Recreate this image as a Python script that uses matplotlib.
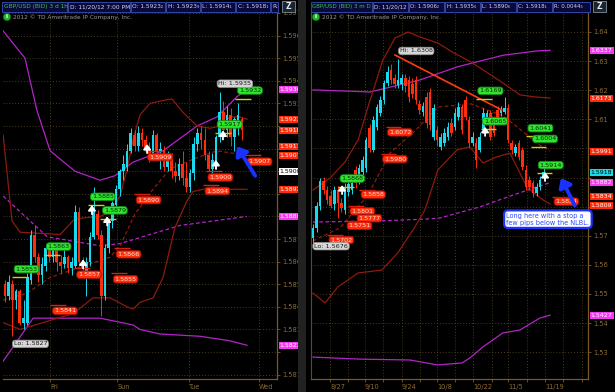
import matplotlib
matplotlib.use("Agg")
import matplotlib.pyplot as plt
from matplotlib.patches import Rectangle, Ellipse

# ---------------- LEFT PANEL DATA : GBP/USD (BID) 3 d 1h ----------------
left_open = [1.5850, 1.5845, 1.5850, 1.5843, 1.5847, 1.5833, 1.5833, 1.5852, 1.5872, 1.5862,
             1.5854, 1.5858, 1.5865, 1.5862, 1.5865, 1.5860, 1.5859, 1.5862, 1.5857, 1.5858,
             1.5882, 1.5860, 1.5856, 1.5860, 1.5871, 1.5881, 1.5872, 1.5845, 1.5866, 1.5878,
             1.5885, 1.5892, 1.5900, 1.5902, 1.5909, 1.5916, 1.5911, 1.5917, 1.5914, 1.5910,
             1.5907, 1.5916, 1.5909, 1.5909, 1.5902, 1.5907, 1.5900, 1.5898, 1.5903, 1.5897,
             1.5893, 1.5899, 1.5912, 1.5917, 1.5914, 1.5907, 1.5901, 1.5904, 1.5915, 1.5926,
             1.5918, 1.5925, 1.5915, 1.5922, 1.5923]
left_high = [1.5852, 1.5854, 1.5852, 1.5848, 1.5848, 1.5843, 1.5855, 1.5874, 1.5876, 1.5864,
             1.5862, 1.5868, 1.5867, 1.5867, 1.5866, 1.5863, 1.5865, 1.5863, 1.5862, 1.5885,
             1.5884, 1.5862, 1.5862, 1.5873, 1.5893, 1.5883, 1.5874, 1.5868, 1.5879, 1.5887,
             1.5894, 1.5901, 1.5907, 1.5912, 1.5919, 1.5918, 1.5920, 1.5919, 1.5916, 1.5913,
             1.5918, 1.5917, 1.5913, 1.5911, 1.5909, 1.5908, 1.5904, 1.5906, 1.5909, 1.5904,
             1.5901, 1.5915, 1.5919, 1.5920, 1.5919, 1.5909, 1.5908, 1.5916, 1.5935, 1.5931,
             1.5929, 1.5928, 1.5924, 1.5930, 1.5924]
left_low = [1.5842, 1.5843, 1.5827, 1.5839, 1.5832, 1.5830, 1.5832, 1.5850, 1.5860, 1.5851,
            1.5850, 1.5856, 1.5860, 1.5860, 1.5856, 1.5855, 1.5857, 1.5855, 1.5854, 1.5857,
            1.5858, 1.5855, 1.5845, 1.5858, 1.5870, 1.5870, 1.5836, 1.5843, 1.5864, 1.5875,
            1.5882, 1.5889, 1.5896, 1.5900, 1.5908, 1.5909, 1.5909, 1.5911, 1.5909, 1.5904,
            1.5905, 1.5906, 1.5901, 1.5900, 1.5900, 1.5897, 1.5895, 1.5896, 1.5894, 1.5891,
            1.5891, 1.5896, 1.5909, 1.5910, 1.5905, 1.5900, 1.5899, 1.5901, 1.5913, 1.5916,
            1.5915, 1.5911, 1.5909, 1.5916, 1.5914]
left_close = [1.5845, 1.5851, 1.5843, 1.5847, 1.5833, 1.5835, 1.5853, 1.5872, 1.5862, 1.5854,
              1.5859, 1.5866, 1.5862, 1.5865, 1.5860, 1.5858, 1.5862, 1.5857, 1.5860, 1.5882,
              1.5860, 1.5857, 1.5860, 1.5871, 1.5882, 1.5872, 1.5845, 1.5866, 1.5878, 1.5886,
              1.5892, 1.5900, 1.5903, 1.5909, 1.5917, 1.5911, 1.5917, 1.5914, 1.5910, 1.5907,
              1.5916, 1.5909, 1.5910, 1.5902, 1.5907, 1.5900, 1.5898, 1.5903, 1.5897, 1.5893,
              1.5899, 1.5912, 1.5917, 1.5914, 1.5907, 1.5901, 1.5905, 1.5915, 1.5926, 1.5918,
              1.5925, 1.5915, 1.5923, 1.5925, 1.5918]

left_day_ticks = [12.2, 30.3, 49.7, 68.6]
left_day_labels = ["Fri", "Sun", "Tue", "Wed"]
left_price_ticks = [1.581, 1.582, 1.583, 1.584, 1.585, 1.586, 1.587, 1.588, 1.589,
                    1.590, 1.591, 1.592, 1.593, 1.594, 1.595, 1.596, 1.597]
left_price_labels = ["1.581", "1.582", "1.583", "1.584", "1.585", "1.586", "1.587", "1.588",
                     "1.589", "1.590", "1.591", "1.592", "1.593", "1.594", "1.595", "1.596",
                     "1.597"]

# indicator lines (bar index, price)
left_bbu_x = [-0.5, 1.9, 4.1, 14.9, 18.9, 25.7, 28.4, 31.1, 33.0, 34.6, 36.5, 39.2, 41.9,
              45.1, 48.1, 51.9, 55.4, 58.1, 60.8, 63.5, 65.4]
left_bbu = [1.5916, 1.5878, 1.5873, 1.5872, 1.5879, 1.5880, 1.5882, 1.5889, 1.5901, 1.5914,
            1.5925, 1.5930, 1.5931, 1.5932, 1.5926, 1.5920, 1.5919, 1.5920, 1.5924, 1.5924, 1.5923]
left_bbl_x = [-0.5, 4.1, 12.2, 18.4, 23.8, 28.4, 33.0, 34.6, 36.5, 40.0, 42.7, 44.6, 45.9,
              49.2, 50.8, 56.2, 60.8, 65.4]
left_bbl = [1.5833, 1.5830, 1.5834, 1.5837, 1.5844, 1.5844, 1.5840, 1.5839, 1.5842, 1.5844,
            1.5853, 1.5866, 1.5875, 1.5887, 1.5891, 1.5893, 1.5892, 1.5892]
left_bbm_x = [-0.5, 5.9, 12.2, 21.1, 28.4, 31.1, 35.1, 40.0, 44.6, 51.9, 57.3, 65.4]
left_bbm = [1.5843, 1.5846, 1.5853, 1.5858, 1.5862, 1.5867, 1.5881, 1.5892, 1.5901, 1.5906, 1.5909, 1.5907]
left_envu_x = [-0.5, 5.4, 8.6, 12.2, 18.9, 25.7, 29.7, 34.6, 42.7, 51.9, 57.3, 62.7, 65.4]
left_envu = [1.5962, 1.5950, 1.5927, 1.5909, 1.5900, 1.5896, 1.5898, 1.5904, 1.5909, 1.5920,
             1.5924, 1.5933, 1.5936]
left_envl_x = [-0.5, 5.9, 7.6, 12.2, 25.7, 34.6, 36.5, 41.9, 52.7, 60.8, 65.4]
left_envl = [1.5816, 1.5831, 1.5835, 1.5835, 1.5835, 1.5832, 1.5830, 1.5828, 1.5827, 1.5825, 1.5823]
left_envm_x = [-0.5, 11.4, 25.7, 31.1, 47.3, 65.4]
left_envm = [1.5889, 1.5871, 1.5867, 1.5868, 1.5876, 1.5880]

left_green_vals = [1.5853, 1.5863, 1.5885, 1.5879, 1.5917, 1.5932]
left_green_x = [5.8, 14.5, 26.4, 29.7, 60.7, 66.2]
left_red_vals = [1.5841, 1.5857, 1.5855, 1.5866, 1.5890, 1.5909, 1.5900, 1.5894, 1.5907]
left_red_x = [16.2, 22.7, 32.6, 33.4, 38.8, 41.9, 58.2, 57.4, 68.8]
left_arrow_x = [23.5, 27.6, 21.1, 38.4, 57.0, 58.9]
left_arrow_y = [1.5885, 1.5880, 1.5861, 1.5912, 1.5905, 1.5918]
left_tags = [(1.5936, "1.5936", "#f23cf2", "white"), (1.5923, "1.5923", "#ff2a0a", "white"),
             (1.5918, "1.5918", "#ff2a0a", "white"), (1.5911, "1.5911", "#ff2a0a", "white"),
             (1.5907, "1.5907", "#ff2a0a", "white"), (1.5900, "1.5900", "#ffffff", "black"),
             (1.5892, "1.5892", "#ff2a0a", "white"), (1.5880, "1.5880", "#f23cf2", "white"),
             (1.5823, "1.5823", "#f23cf2", "white")]

# ---------------- RIGHT PANEL DATA : GBP/USD (BID) 3 m D ----------------
right_open = [1.5692, 1.5727, 1.5802, 1.5888, 1.5857, 1.5836, 1.5809, 1.5857, 1.5812, 1.5788,
              1.5850, 1.5857, 1.5926, 1.5891, 1.5919, 1.5933, 1.6070, 1.5995, 1.6074, 1.6122,
              1.6166, 1.6225, 1.6269, 1.6242, 1.6218, 1.6221, 1.6242, 1.6235, 1.6221, 1.6235,
              1.6153, 1.6125, 1.6177, 1.6194, 1.6039, 1.6063, 1.6005, 1.6019, 1.6039, 1.6087,
              1.6074, 1.6108, 1.6142, 1.6166, 1.6098, 1.6019, 1.6019, 1.5995, 1.6063, 1.6098,
              1.6122, 1.6098, 1.6132, 1.6122, 1.6125, 1.6139, 1.6019, 1.5984, 1.6019, 1.5995,
              1.5926, 1.5891, 1.5881, 1.5847, 1.5867, 1.5906]
right_high = [1.5740, 1.5816, 1.5898, 1.5902, 1.5871, 1.5857, 1.5871, 1.5871, 1.5830, 1.5881,
              1.5891, 1.5898, 1.5940, 1.5946, 1.5974, 1.6039, 1.6084, 1.6111, 1.6153, 1.6180,
              1.6235, 1.6283, 1.6290, 1.6256, 1.6308, 1.6256, 1.6256, 1.6249, 1.6242, 1.6249,
              1.6166, 1.6159, 1.6194, 1.6208, 1.6153, 1.6077, 1.6053, 1.6070, 1.6091, 1.6104,
              1.6139, 1.6159, 1.6153, 1.6180, 1.6111, 1.6056, 1.6036, 1.6056, 1.6139, 1.6132,
              1.6132, 1.6111, 1.6146, 1.6146, 1.6177, 1.6153, 1.6029, 1.6015, 1.6029, 1.6005,
              1.5943, 1.5905, 1.5891, 1.5881, 1.5905, 1.5935]
right_low = [1.5676, 1.5713, 1.5788, 1.5843, 1.5809, 1.5795, 1.5788, 1.5761, 1.5782, 1.5775,
             1.5836, 1.5843, 1.5864, 1.5878, 1.5905, 1.5919, 1.5988, 1.5988, 1.6063, 1.6111,
             1.6153, 1.6214, 1.6221, 1.6208, 1.6208, 1.6201, 1.6194, 1.6159, 1.6173, 1.6153,
             1.6118, 1.6111, 1.6070, 1.6063, 1.6029, 1.6008, 1.5995, 1.6008, 1.6029, 1.6043,
             1.6063, 1.6098, 1.6050, 1.6098, 1.6005, 1.6008, 1.5933, 1.5988, 1.6053, 1.6084,
             1.6029, 1.6043, 1.6084, 1.6111, 1.6118, 1.6019, 1.5981, 1.5974, 1.5960, 1.5926,
             1.5857, 1.5857, 1.5833, 1.5836, 1.5857, 1.5890]
right_close = [1.5727, 1.5802, 1.5888, 1.5857, 1.5823, 1.5802, 1.5857, 1.5812, 1.5795, 1.5867,
               1.5878, 1.5881, 1.5881, 1.5933, 1.5960, 1.6029, 1.6001, 1.6098, 1.6142, 1.6166,
               1.6225, 1.6263, 1.6235, 1.6221, 1.6235, 1.6242, 1.6214, 1.6177, 1.6187, 1.6166,
               1.6132, 1.6146, 1.6087, 1.6080, 1.6139, 1.6029, 1.6039, 1.6053, 1.6074, 1.6053,
               1.6122, 1.6142, 1.6063, 1.6108, 1.6019, 1.6039, 1.5960, 1.6039, 1.6122, 1.6122,
               1.6039, 1.6053, 1.6098, 1.6132, 1.6139, 1.6029, 1.5995, 1.6005, 1.5971, 1.5936,
               1.5867, 1.5867, 1.5847, 1.5867, 1.5891, 1.5918]

right_date_ticks = [4.8, 14.6, 25.1, 34.9, 45.1, 54.9, 65.4]
right_date_labels = ["8/27", "9/10", "9/24", "10/8", "10/22", "11/5", "11/19"]
right_week_ticks = [9.9, 19.7, 30.1, 40.0, 50.4, 60.3, 70.4, 75.8]
right_price_ticks = [1.53, 1.54, 1.55, 1.56, 1.57, 1.58, 1.59, 1.60, 1.61, 1.62, 1.63, 1.64]
right_price_labels = ["1.53", "1.54", "1.55", "1.56", "1.57", "1.58", "1.59", "1.60",
                      "1.61", "1.62", "1.63", "1.64"]

right_bbu_x = [0, 4.8, 9.0, 12.7, 16.1, 19.7, 23.1, 26.8, 30.1, 35.2, 39.7, 44.5, 49.3,
               53.5, 58.3, 62.5, 66.8]
right_bbu = [1.5857, 1.5898, 1.5953, 1.6029, 1.6166, 1.6304, 1.6379, 1.6400, 1.6383, 1.6362,
             1.6328, 1.6297, 1.6259, 1.6225, 1.6184, 1.6177, 1.6173]
right_bbl_x = [0, 3.4, 7.0, 12.7, 19.4, 23.9, 28.7, 31.5, 35.2, 40.6, 44.2, 47.9, 51.8,
               55.5, 60.3, 64.8, 66.8]
right_bbl = [1.5503, 1.5469, 1.5524, 1.5572, 1.5582, 1.5641, 1.5730, 1.5788, 1.5926, 1.5995,
             1.6005, 1.5950, 1.5971, 1.5984, 1.5867, 1.5823, 1.5809]
right_bbm_x = [0, 7.6, 15.5, 21.7, 28.7, 35.2, 44.5, 53.8, 63.4, 66.8]
right_bbm = [1.5682, 1.5727, 1.5840, 1.5984, 1.6060, 1.6142, 1.6153, 1.6111, 1.6015, 1.5991]
right_envu_x = [0, 16.1, 30.1, 40.6, 53.5, 63.1, 66.8]
right_envu = [1.6201, 1.6194, 1.6235, 1.6280, 1.6320, 1.6335, 1.6337]
right_envl_x = [0, 13.2, 27.3, 35.2, 42.0, 44.2, 47.9, 53.5, 58.3, 63.9, 66.8]
right_envl = [1.5283, 1.5276, 1.5273, 1.5256, 1.5263, 1.5280, 1.5318, 1.5366, 1.5376, 1.5417, 1.5427]
right_envm_x = [0, 18.9, 31.5, 35.8, 47.0, 55.5, 63.9, 66.8]
right_envm = [1.5747, 1.5751, 1.5757, 1.5761, 1.5799, 1.5836, 1.5871, 1.5882]
right_trend_x = [23.1, 53.2]
right_trend = [1.6321, 1.6132]

right_green_vals = [1.5868, 1.6169, 1.6065, 1.6041, 1.6004, 1.5914]
right_green_x = [11.1, 50.0, 51.3, 64.1, 65.4, 67.0]
right_red_vals = [1.6072, 1.5980, 1.5858, 1.5801, 1.5777, 1.5751, 1.5702, 1.5834]
right_red_x = [24.5, 23.1, 17.0, 13.9, 15.9, 13.1, 8.0, 71.4]
right_arrow_x = [8.2, 48.5, 65.4]
right_arrow_y = [1.5874, 1.6074, 1.5919]
right_tags = [(1.6337, "1.6337", "#f23cf2", "white"), (1.6173, "1.6173", "#ff2a0a", "white"),
              (1.5991, "1.5991", "#ff2a0a", "white"), (1.5918, "1.5918", "#19d9e8", "black"),
              (1.5882, "1.5882", "#f23cf2", "white"), (1.5834, "1.5834", "#ff2a0a", "white"),
              (1.5809, "1.5809", "#ff2a0a", "white"), (1.5427, "1.5427", "#f23cf2", "white")]

left_header = ["GBP/USD (BID) 3 d 1h", "D: 11/20/12 7:00 PM", "O: 1.5923\u2082",
               "H: 1.5923\u2089", "L: 1.5914\u2081", "C: 1.5918\u2081", "R:"]
right_header = ["GBP/USD (BID) 3 m D", "D: 11/20/12", "O: 1.5906\u2082", "H: 1.5935\u2080",
                "L: 1.5890\u2086", "C: 1.5918\u2081", "R: 0.0044\u2085"]

# ---------------- styling ----------------
W, H = 615, 392
UP, DN = "#19d9ee", "#ff2d0c"
AX_COL, TXT_COL, GRID_COL = "#7a5a24", "#8c6c34", "#4a3c1e"
PURPLE, DKRED = "#b423c8", "#8e1a0c"

fig = plt.figure(figsize=(W / 100, H / 100), dpi=100, facecolor="black")


def fx(px):
    return px / W


def fy(py):
    return 1 - py / H


def setup_axes(rect, xlim, ylim):
    ax = fig.add_axes(rect)
    ax.set_facecolor("black")
    ax.set_xlim(*xlim)
    ax.set_ylim(*ylim)
    for s in ("top", "left"):
        ax.spines[s].set_visible(False)
    for s in ("right", "bottom"):
        ax.spines[s].set_color(AX_COL)
        ax.spines[s].set_linewidth(0.9)
    ax.yaxis.tick_right()
    ax.tick_params(axis="both", which="both", colors=AX_COL, labelcolor=TXT_COL,
                   labelsize=4.8, length=2.5, width=0.6, pad=1.2)
    return ax


def draw_candles(ax, o, h, l, c, min_h):
    xs = list(range(len(o)))
    cols = [UP if c[i] >= o[i] else DN for i in xs]
    ax.vlines(xs, l, h, colors=cols, lw=0.7, zorder=3)
    bottoms = [min(o[i], c[i]) for i in xs]
    heights = [max(abs(c[i] - o[i]), min_h) for i in xs]
    ax.bar(xs, heights, bottom=bottoms, width=0.72, color=cols, lw=0, zorder=4)


def level_label(ax, x, y, fc, ec, tc, line_col, dy):
    ax.hlines(y, x - 4, x + 0.4, colors=line_col, lw=1.0, zorder=5)
    ax.annotate(f"{y:.4f}", xy=(x, y), xytext=(0, dy), textcoords="offset points",
                ha="center", va="center", fontsize=4.6, color=tc, zorder=7,
                annotation_clip=False,
                bbox=dict(boxstyle="round,pad=0.2,rounding_size=0.5", fc=fc, ec=ec, lw=0.6))


def price_axis(ax, ticks, labels, tags, gap_px=8.6):
    # stack the price tags on the right axis; tick labels hidden behind a tag are blanked
    items = sorted(tags, key=lambda t: -t[0])
    placed = []
    prev = None
    for y, text, fc, tc in items:
        py = ax.transData.transform((0, y))[1]
        if prev is not None and prev - py < gap_px:
            py = prev - gap_px
        prev = py
        placed.append((py, text, fc, tc))
    shown = []
    for v, lab in zip(ticks, labels):
        tpy = ax.transData.transform((0, v))[1]
        covered = any(abs(tpy - p[0]) < 7.8 for p in placed)
        shown.append("" if covered else lab)
    ax.set_yticks(ticks)
    ax.set_yticklabels(shown)
    for py, text, fc, tc in placed:
        y = ax.transData.inverted().transform((0, py))[1]
        ax.annotate(text, xy=(1, y), xycoords=ax.get_yaxis_transform(), xytext=(2.0, 0),
                    textcoords="offset points", ha="left", va="center", fontsize=4.5,
                    color=tc, zorder=10, annotation_clip=False,
                    bbox=dict(boxstyle="square,pad=0.16", fc=fc, ec="none"))


def up_arrow(ax, x, y):
    ax.annotate("", xy=(x, y), xytext=(0, -6.5), textcoords="offset points",
                arrowprops=dict(arrowstyle="-|>,head_width=0.22,head_length=0.3",
                                color="white", lw=1.3, shrinkA=0, shrinkB=0), zorder=8)


def hilo(ax, x, y, text, dx, dy):
    ax.annotate(text, xy=(x, y), xytext=(dx, dy), textcoords="offset points",
                ha="center", va="center", fontsize=4.6, color="#1a1a1a", zorder=7,
                annotation_clip=False,
                bbox=dict(boxstyle="round,pad=0.2,rounding_size=0.5", fc="#d6d6d6",
                          ec="#909090", lw=0.5))


# ---------------- left panel ----------------
axL = setup_axes([fx(3), fy(379), (277 - 3) / W, (379 - 12) / H], (-0.54, 73.5),
                 (1.58081, 1.59704))
axL.set_xticks(left_day_ticks)
axL.set_xticklabels(left_day_labels, ha="left")
axL.grid(True, color=GRID_COL, linestyle=(0, (1, 2)), lw=0.7)
price_axis(axL, left_price_ticks, left_price_labels, left_tags)

axL.plot(left_envu_x, left_envu, color=PURPLE, lw=0.9, zorder=2)
axL.plot(left_envl_x, left_envl, color=PURPLE, lw=0.9, zorder=2)
axL.plot(left_envm_x, left_envm, color=PURPLE, lw=0.9, ls=(0, (3, 2)), zorder=2)
axL.plot(left_bbu_x, left_bbu, color=DKRED, lw=0.9, zorder=2)
axL.plot(left_bbl_x, left_bbl, color=DKRED, lw=0.9, zorder=2)
axL.plot(left_bbm_x, left_bbm, color=DKRED, lw=0.9, ls=(0, (3, 2)), zorder=2)
draw_candles(axL, left_open, left_high, left_low, left_close, 0.00004)

for v, x in zip(left_green_vals, left_green_x):
    level_label(axL, x, v, "#2fe52f", "#138a13", "#0a2a0a", "#c8d21e", 6.0)
for v, x in zip(left_red_vals, left_red_x):
    level_label(axL, x, v, "#ff2d0c", "#a01000", "#ffe0d8", "#d8200c", -4.5)
for x, y in zip(left_arrow_x, left_arrow_y):
    up_arrow(axL, x, y)
hilo(axL, 58, max(left_high), "Hi: 1.5935", 11, 6)
hilo(axL, 2, min(left_low), "Lo: 1.5827", 13, -5.5)
axL.annotate("", xy=(62.7, 1.5911), xytext=(67.6, 1.5898),
             arrowprops=dict(arrowstyle="-|>,head_width=0.4,head_length=0.5",
                             color="#1a32ff", lw=2.8, shrinkA=0, shrinkB=0), zorder=9)

# ---------------- right panel ----------------
axR = setup_axes([fx(311), fy(379), (588 - 311) / W, (379 - 12) / H], (-0.56, 77.5),
                 (1.52077, 1.64687))
axR.spines["left"].set_visible(True)
axR.spines["left"].set_color("#5a4a30")
axR.set_xticks(right_date_ticks)
axR.set_xticklabels(right_date_labels, ha="left")
axR.set_xticks(right_week_ticks, minor=True)
axR.grid(True, which="both", color=GRID_COL, linestyle=(0, (1, 2)), lw=0.7)
price_axis(axR, right_price_ticks, right_price_labels, right_tags)

axR.plot(right_envu_x, right_envu, color=PURPLE, lw=0.9, zorder=2)
axR.plot(right_envl_x, right_envl, color=PURPLE, lw=0.9, zorder=2)
axR.plot(right_envm_x, right_envm, color=PURPLE, lw=0.9, ls=(0, (3, 2)), zorder=2)
axR.plot(right_bbu_x, right_bbu, color=DKRED, lw=0.9, zorder=2)
axR.plot(right_bbl_x, right_bbl, color=DKRED, lw=0.9, zorder=2)
axR.plot(right_bbm_x, right_bbm, color=DKRED, lw=0.9, ls=(0, (3, 2)), zorder=2)
axR.plot(right_trend_x, right_trend, color="#ff3a10", lw=1.2, zorder=5)
draw_candles(axR, right_open, right_high, right_low, right_close, 0.0003)

for v, x in zip(right_green_vals, right_green_x):
    level_label(axR, x, v, "#2fe52f", "#138a13", "#0a2a0a", "#c8d21e", 6.0)
for v, x in zip(right_red_vals, right_red_x):
    level_label(axR, x, v, "#ff2d0c", "#a01000", "#ffe0d8", "#d8200c", -3.5)
for x, y in zip(right_arrow_x, right_arrow_y):
    up_arrow(axR, x, y)
hilo(axR, 24, max(right_high), "Hi: 1.6308", 13, 5.6)
hilo(axR, 0, min(right_low), "Lo: 1.5676", 13, -2.5)
axR.annotate("", xy=(69.9, 1.5898), xytext=(73.8, 1.5804),
             arrowprops=dict(arrowstyle="-|>,head_width=0.4,head_length=0.5",
                             color="#1a32ff", lw=2.8, shrinkA=0, shrinkB=0), zorder=9)
axR.annotate("Long here with a stop a\nfew pips below the NLBL.", xy=(66.2, 1.5757),
             ha="center", va="center", fontsize=4.7, color="#2a48ff", zorder=10,
             annotation_clip=False, multialignment="left",
             bbox=dict(boxstyle="round,pad=0.35,rounding_size=0.6", fc="white",
                       ec="#1a32ff", lw=1.6))

# ---------------- chrome: header, separator, copyright ----------------
fig.patches.append(Rectangle((fx(298), 0), fx(8), 1, transform=fig.transFigure,
                             fc="#222222", ec="none", zorder=0))


def header(cells_px, texts, x_icon, fs):
    for (x0, x1), t, i in zip(cells_px, texts, range(len(texts))):
        fig.patches.append(Rectangle((fx(x0), fy(11.5)), fx(x1) - fx(x0), 9.5 / H,
                                     transform=fig.transFigure, fc="#0a0a3a",
                                     ec="#3444a8", lw=0.7))
        fig.text(fx(x0 + 1.5), fy(6.8), t, fontsize=fs, ha="left", va="center",
                 color="#2ed02e" if i == 0 else "#d4d4ec")
    fig.patches.append(Rectangle((fx(x_icon), fy(12)), fx(13), 10.5 / H,
                                 transform=fig.transFigure, fc="#1c2430", ec="#7c8ca0", lw=0.6))
    fig.text(fx(x_icon + 6.5), fy(6.8), "Z", fontsize=5.5, ha="center", va="center",
             color="#dfe8f4", fontweight="bold")


header([(2, 67), (68, 130), (131, 165), (166, 200), (201, 235), (236, 270), (271, 278)],
       left_header, 282, 4.2)
header([(311, 372), (373, 408), (409, 444), (445, 480), (481, 516), (517, 552), (553, 590)],
       right_header, 593, 4.0)

for x0 in (7, 316):
    fig.patches.append(Ellipse((fx(x0), fy(17)), 7.5 / W, 7.5 / H, transform=fig.transFigure,
                               fc="#1fb52a", ec="#0a6010", lw=0.5))
    fig.text(fx(x0), fy(17), "i", fontsize=4.5, ha="center", va="center", color="white",
             fontweight="bold")
    fig.text(fx(x0 + 6), fy(17), "2012 \u00a9 TD Ameritrade IP Company, Inc.", fontsize=4.2,
             ha="left", va="center", color="#9a9a9a")

fig.savefig("out.png", dpi=100, facecolor="black")
